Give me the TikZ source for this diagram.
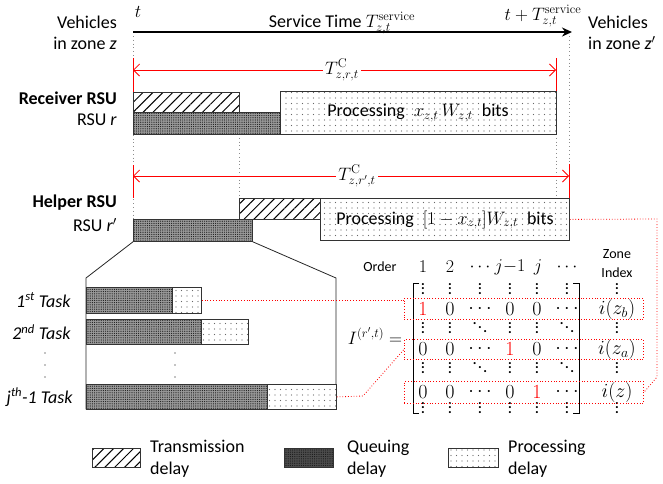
\RequirePackage{fix-cm}
\documentclass[tikz,border=0pt]{standalone}
\usepackage[no-math]{fontspec}
\setmainfont{Carlito}
\usetikzlibrary{arrows.meta,patterns.meta}
\newcommand\myvd{\vbox{\baselineskip=4.2pt \lineskiplimit=0pt \hbox{.}\hbox{.}\hbox{.}}}
\newcommand\mydd{\hbox{\raisebox{8pt}{.}\kern1.5pt\raisebox{4pt}{.}\kern1.5pt\raisebox{0pt}{.}}}
\begin{document}
\begin{tikzpicture}[x=1pt,y=-1pt,
  every node/.style={font=\fontsize{18}{21}\selectfont, inner sep=0pt},
  box/.style={draw=black!80, line width=0.8pt, inner sep=0pt, anchor=north west, rectangle},
  hatchbox/.style={box, preaction={fill=white}, pattern={Lines[angle=45,distance=7pt,line width=1pt]}, pattern color=black},
  queuebox/.style={box, preaction={fill=black!40}, pattern={Dots[distance=2.2pt,radius=0.6pt]}, pattern color=black!90},
  procbox/.style={box, preaction={fill=white}, pattern={Dots[distance=5.5pt,radius=0.65pt]}, pattern color=black!60},
  reddot/.style={draw=red, line width=0.8pt, dash pattern=on 0.8pt off 2pt},
  graydot/.style={draw=black!45, line width=1pt, dash pattern=on 1pt off 2.8pt},
  redarrow/.style={draw=red, line width=0.8pt, {Straight Barb[length=6pt,width=12pt]}-{Straight Barb[length=6pt,width=12pt]}},
  redbar/.style={draw=red, line width=0.8pt},
  lbl/.style={fill=white, inner sep=2pt},
  mtx/.style={font=\fontsize{20}{22}\selectfont},
  hdr/.style={font=\fontsize{18}{21}\selectfont},
  mdots/.style={font=\bfseries\fontsize{14}{16}\selectfont},
  small/.style={font=\fontsize{14}{19}\selectfont, align=center},
  rowbox/.style={reddot, anchor=north west, minimum width=239pt, inner sep=0pt, rectangle},
]
\useasboundingbox (0,0) rectangle (663,483);

% ---------- top timeline ----------
\coordinate (t0) at (133,32);
\coordinate (t1) at (572,32);
\draw[line width=1.6pt, -{Stealth[length=10pt,width=9pt]}] (t0) -- (t1);
\node (tlab) at (138,12) {$t$};
\node[anchor=base] (stlab) at (342,27) {Service Time $T^{\mathrm{service}}_{z,t}$};
\node[anchor=base] (tend) at (543,20) {$t+T^{\mathrm{service}}_{z,t}$};
\node[anchor=east, align=right] (vz) at (117,33) {Vehicles\\in zone \textit{z}};
\node[anchor=west, align=left] (vz2) at (588,33) {Vehicles\\in zone \textit{z}$'$};

% ---------- gray dotted guides ----------
\coordinate (g1a) at (133,36);  \coordinate (g1b) at (133,219);
\coordinate (g2a) at (239,134); \coordinate (g2b) at (239,198);
\coordinate (g3a) at (556,134); \coordinate (g3b) at (556,198);
\coordinate (g4a) at (569,36);  \coordinate (g4b) at (569,198);
\draw[graydot] (g1a) -- (g1b);
\draw[graydot] (g2a) -- (g2b);
\draw[graydot] (g3a) -- (g3b);
\draw[graydot] (g4a) -- (g4b);

% ---------- receiver RSU ----------
\node[anchor=east] (recv) at (117,98) {\textbf{Receiver RSU}};
\node[anchor=east] (rsur) at (117,120) {RSU \textit{r}};
\node[hatchbox, minimum width=106pt, minimum height=20pt] (rh) at (133,92) {};
\node[queuebox, minimum width=147pt, minimum height=22pt] (rq) at (133,112) {};
\node[procbox, minimum width=276pt, minimum height=43pt] (rp) at (280,91) {};
\node (rptext) at (418,113) {Processing\enspace $x_{z,t}\,W_{z,t}$\enspace bits};

\coordinate (a1l) at (133,70); \coordinate (a1r) at (556,70);
\draw[redbar] (133,58) -- (133,92);
\draw[redbar] (556,58) -- (556,91);
\draw[redarrow] (a1l) -- (a1r);
\node[lbl] (tc1) at (342,70) {$T^{\mathrm{C}}_{z,r,t}$};

% ---------- helper RSU ----------
\node[anchor=east] (help) at (117,203) {\textbf{Helper RSU}};
\node[anchor=east] (rsur2) at (117,225) {RSU \textit{r}$'$};
\node[hatchbox, minimum width=81pt, minimum height=21pt] (hh) at (239,198) {};
\node[queuebox, minimum width=119pt, minimum height=22pt] (hq) at (133,219) {};
\node[procbox, minimum width=249pt, minimum height=42pt] (hp) at (320,198) {};
\node (hptext) at (445,220) {Processing\enspace $[1-x_{z,t}]W_{z,t}$\enspace bits};

\coordinate (a2l) at (133,176); \coordinate (a2r) at (569,176);
\draw[redbar] (133,165) -- (133,198);
\draw[redbar] (569,164) -- (569,198);
\draw[redarrow] (a2l) -- (a2r);
\node[lbl] (tc2) at (357,176) {$T^{\mathrm{C}}_{z,r',t}$};

% ---------- zoomed queue ----------
\coordinate (zl) at (86,278); \coordinate (zr) at (336,278);
\coordinate (zbl) at (86,409); \coordinate (zbr) at (336,409);
\draw[line width=0.8pt, black!85] (hq.south west) -- (zl) -- (zbl) -- (zbr) -- (zr) -- (hq.south east);

\node[queuebox, minimum width=86pt, minimum height=26pt] (t1q) at (86,287) {};
\node[procbox, minimum width=29pt, minimum height=26pt] (t1p) at (172,287) {};
\node[queuebox, minimum width=115pt, minimum height=25pt] (t2q) at (86,319) {};
\node[procbox, minimum width=47pt, minimum height=25pt] (t2p) at (201,319) {};
\node[queuebox, minimum width=181pt, minimum height=25pt] (tjq) at (86,384) {};
\node[procbox, minimum width=69pt, minimum height=25pt] (tjp) at (267,384) {};

\node[anchor=east] (l1) at (71,300) {\textit{1\textsuperscript{st} Task}};
\node[anchor=east] (l2) at (71,332) {\textit{2\textsuperscript{nd} Task}};
\node[anchor=east] (l3) at (73,397) {\textit{j\textsuperscript{th}-1 Task}};
\foreach \yy [count=\k] in {353,365,377} {
  \node[circle, fill=black, minimum size=1.3pt] (dl\k) at (45,\yy) {};
  \node[circle, fill=black, minimum size=1.3pt] (dm\k) at (175,\yy) {};
}

% ---------- matrix ----------
\node[small] (order) at (380,267) {Order};
\node[small] (zone) at (617,264) {Zone\\Index};
\node (Ilab) at (375,336) {$I^{(r',t)}=$};

\draw[line width=1pt] (419,283) -- (413,283) -- (413,413) -- (419,413);
\draw[line width=1pt] (573,283) -- (579,283) -- (579,413) -- (573,413);

\foreach \x/\v [count=\i] in {423/1,450/2,480/\cdots,510/j{-}1,538/j,567/\cdots}
  \node[hdr] (hd\i) at (\x,267) {$\v$};

\foreach \yy [count=\r] in {289,408} {
  \foreach \x [count=\i] in {423,450,480,510,537,567,617}
    \node[mdots] (v\r-\i) at (\x,\yy) {\myvd};
}
\foreach \yy [count=\r] in {328,368} {
  \foreach \x/\v [count=\i] in {423/\myvd,450/\myvd,480/\mydd,510/\myvd,537/\myvd,567/\mydd,617/\myvd}
    \node[mdots] (w\r-\i) at (\x,\yy) {\v};
}
\foreach \x/\v [count=\i] in {423/{\color{red}1},450/0,480/\cdots,510/0,537/0,567/\cdots,617/i(z_b)}
  \node[mtx] (ra\i) at (\x,309) {$\v$};
\foreach \x/\v [count=\i] in {423/0,450/0,480/\cdots,510/{\color{red}1},537/0,567/\cdots,617/i(z_a)}
  \node[mtx] (rb\i) at (\x,349) {$\v$};
\foreach \x/\v [count=\i] in {423/0,450/0,480/\cdots,510/0,537/{\color{red}1},567/\cdots,617/i(z)}
  \node[mtx] (rc\i) at (\x,392) {$\v$};

\node[rowbox, minimum height=21pt] (row1) at (404,298) {};
\node[rowbox, minimum height=20pt] (row2) at (404,339) {};
\node[rowbox, minimum height=22pt] (row3) at (404,381) {};

% ---------- red dotted links ----------
\draw[reddot] (t1p.east) -- (t1p.east -| row1.west);
\coordinate (k1) at (363,396);
\draw[reddot] (tjp.east) -- (k1) -- (row2.west);
\coordinate (k2) at (657,219);
\coordinate (k3) at (657,377);
\draw[reddot] (hp.east) -- (k2) -- (k3) -- (row3.east);

% ---------- legend ----------
\node[hatchbox, minimum width=48pt, minimum height=19pt] (lg1) at (92,448) {};
\node[queuebox, minimum width=49pt, minimum height=19pt, preaction={fill=black!70}] (lg2) at (284,448) {};
\node[procbox, minimum width=50pt, minimum height=19pt] (lg3) at (448,448) {};
\node[anchor=west, align=left, font=\fontsize{18}{22}\selectfont] (lt1) at (150,459) {Transmission\\delay};
\node[anchor=west, align=left, font=\fontsize{18}{22}\selectfont] (lt2) at (347,459) {Queuing\\delay};
\node[anchor=west, align=left, font=\fontsize{18}{22}\selectfont] (lt3) at (508,459) {Processing\\delay};
\end{tikzpicture}
\end{document}
